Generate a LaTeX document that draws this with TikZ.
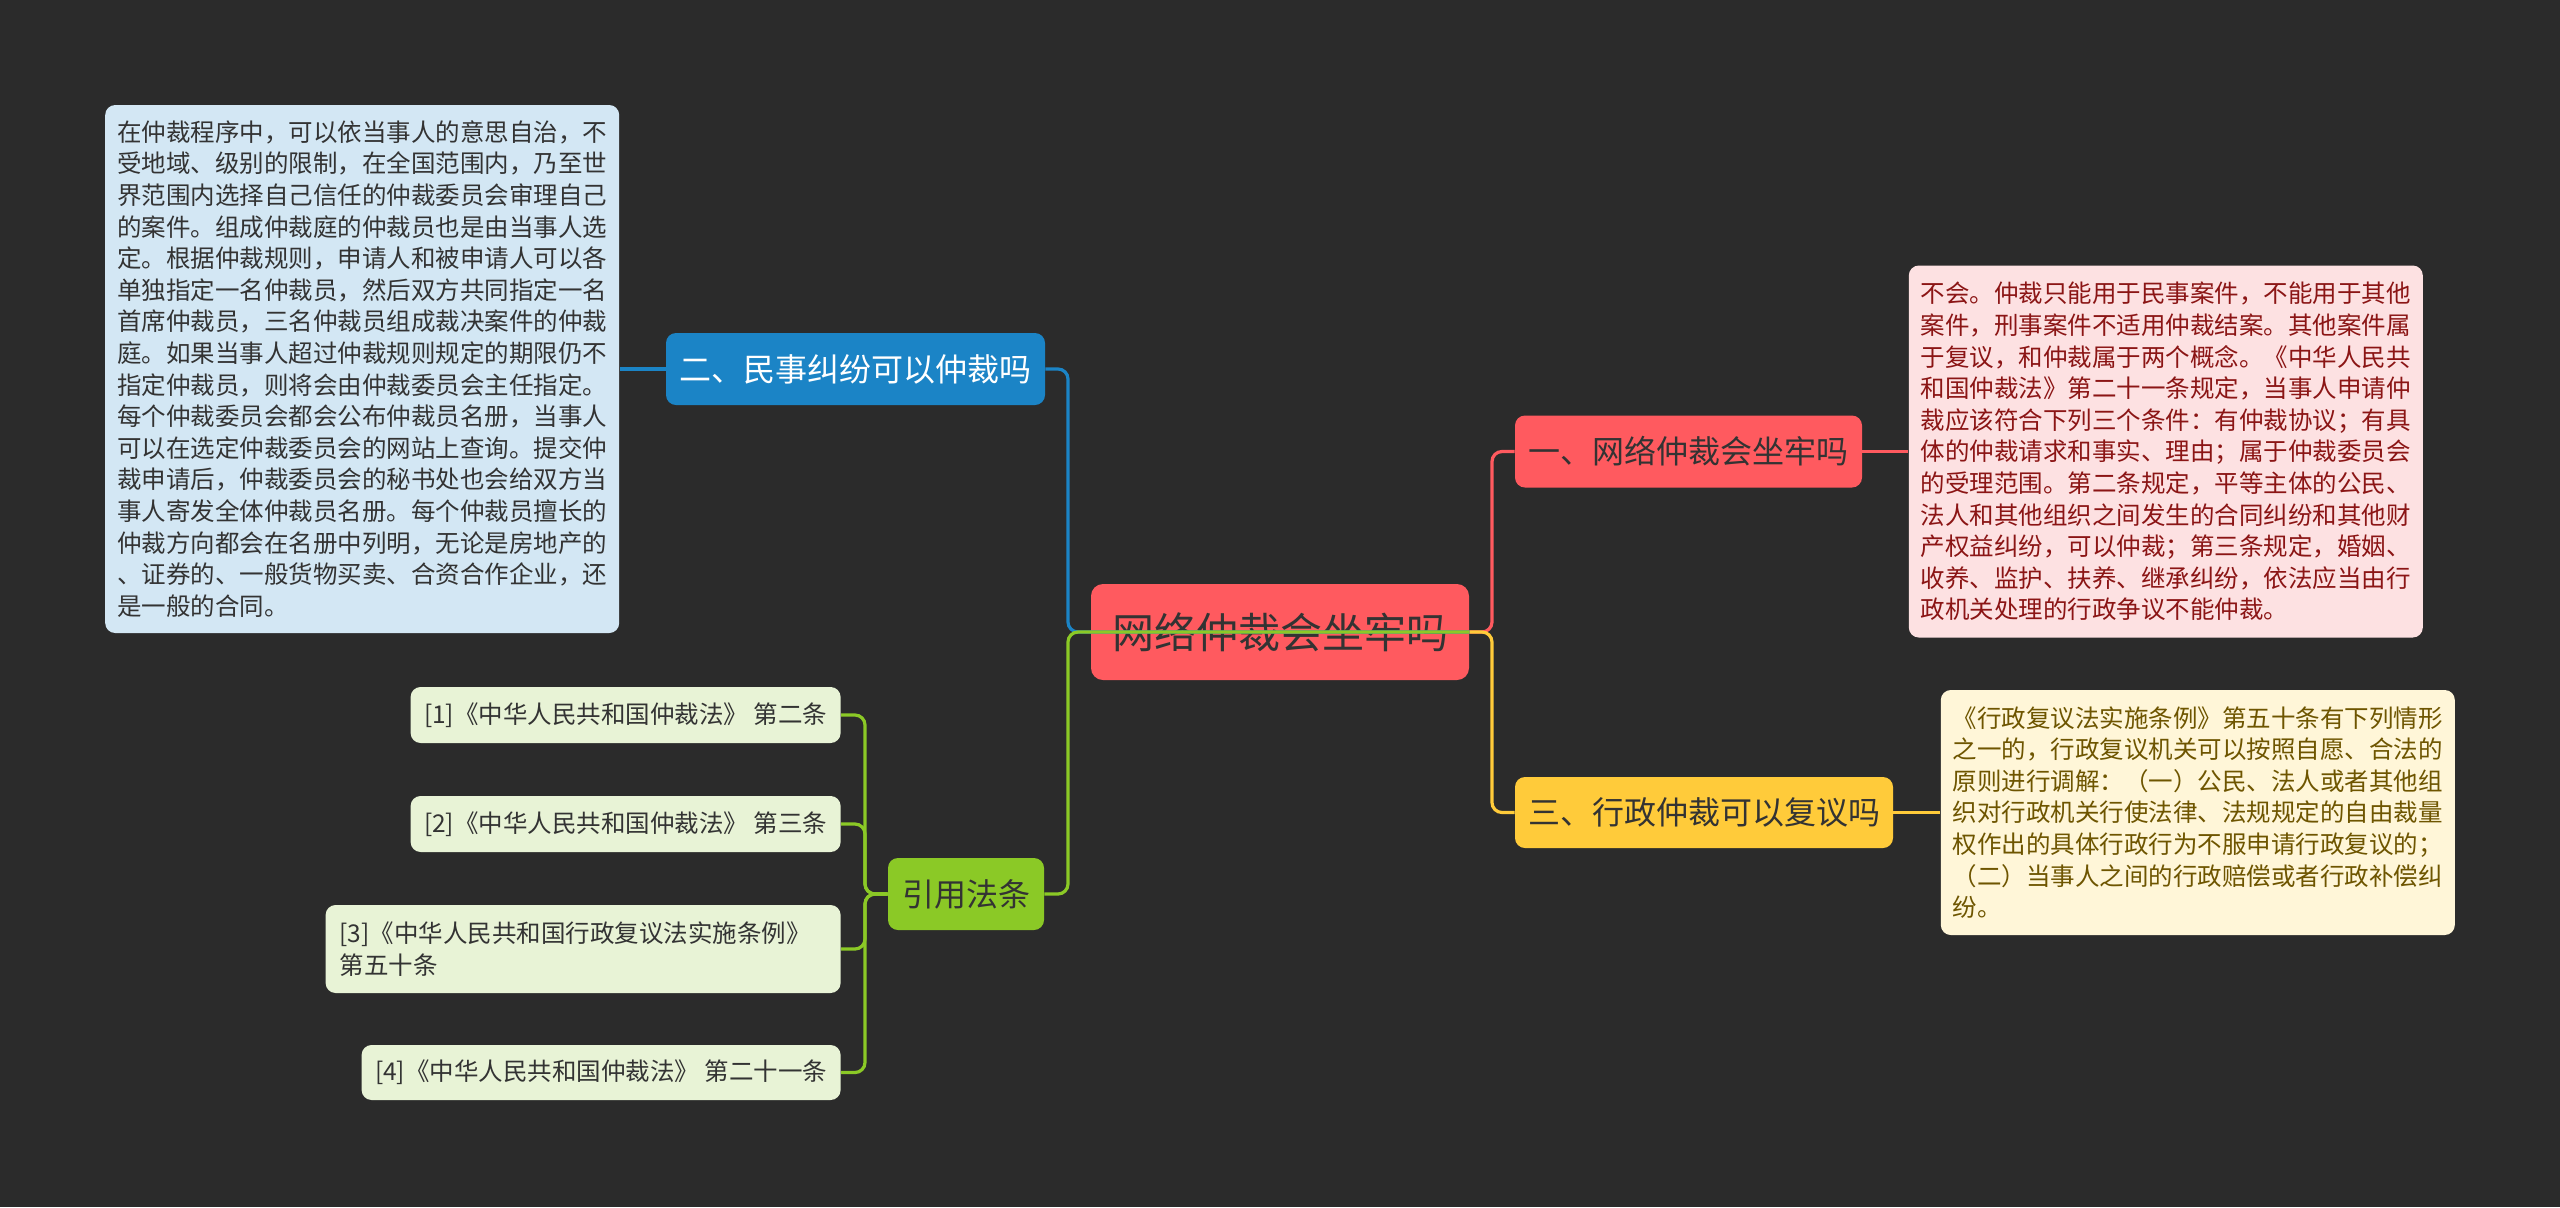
\documentclass[tikz,border=0pt]{standalone}
\usepackage{fontspec}
\setmainfont{Noto Sans CJK SC}
\usepackage{xcolor}
\usetikzlibrary{positioning}
\definecolor{bgdark}{HTML}{2B2B2B}
\definecolor{rootred}{HTML}{FF5A5F}
\definecolor{topicblue}{HTML}{1B84C6}
\definecolor{topicyellow}{HTML}{FFCB3A}
\definecolor{topicgreen}{HTML}{8BC926}
\definecolor{leafgreen}{HTML}{E8F3D6}
\definecolor{noteblue}{HTML}{D3E7F4}
\definecolor{notepink}{HTML}{FDE1E2}
\definecolor{noteyellow}{HTML}{FFF6D8}
\definecolor{inkdark}{HTML}{333333}
\definecolor{inkred}{HTML}{8B1515}
\definecolor{inkolive}{HTML}{6E5500}

\begin{document}
\begin{tikzpicture}[
  x=0.5pt, y=-0.5pt,
  node distance=23pt,
  topic/.style={rounded corners=5pt, inner sep=0pt, minimum height=36pt, text=inkdark, font=\fontsize{16}{19}\selectfont},
  note/.style={rounded corners=5pt, inner xsep=6pt, inner ysep=0pt, text width=245pt, align=left, font=\fontsize{12.25}{15.8}\selectfont},
  leaf/.style={fill=leafgreen, rounded corners=5pt, inner sep=0pt, anchor=east, text=inkdark, font=\fontsize{12.25}{15.8}\selectfont},
  link/.style={line width=1.6pt, rounded corners=5pt}
]
\fill[bgdark] (0,0) rectangle (2560,1207);

\node[rounded corners=6pt, fill=rootred, text=inkdark, minimum width=189pt, minimum height=48pt, inner sep=0pt, font=\fontsize{21}{25}\selectfont] (root) at (1280,632) {网络仲裁会坐牢吗};

\node[topic, fill=rootred, minimum width=173.5pt] (q1) at (1688.5,451.5) {一、网络仲裁会坐牢吗};
\node[topic, fill=topicblue, text=white, minimum width=189.5pt] (q2) at (855.5,369) {二、民事纠纷可以仲裁吗};
\node[topic, fill=topicyellow, minimum width=189pt, minimum height=35.5pt] (q3) at (1704,812.5) {三、行政仲裁可以复议吗};
\node[topic, fill=topicgreen, minimum width=78pt] (cite) at (966,894) {引用法条};

\node[note, fill=notepink, text=inkred, minimum height=186pt, right=of q1] (a1) {不会。仲裁只能用于民事案件，不能用于其他\\案件，刑事案件不适用仲裁结案。其他案件属\\于复议，和仲裁属于两个概念。《中华人民共\\和国仲裁法》第二十一条规定，当事人申请仲\\裁应该符合下列三个条件：有仲裁协议；有具\\体的仲裁请求和事实、理由；属于仲裁委员会\\的受理范围。第二条规定，平等主体的公民、\\法人和其他组织之间发生的合同纠纷和其他财\\产权益纠纷，可以仲裁；第三条规定，婚姻、\\收养、监护、扶养、继承纠纷，依法应当由行\\政机关处理的行政争议不能仲裁。};
\node[note, fill=noteblue, text=inkdark, minimum height=264pt, left=of q2] (a2) {在仲裁程序中，可以依当事人的意思自治，不\\受地域、级别的限制，在全国范围内，乃至世\\界范围内选择自己信任的仲裁委员会审理自己\\的案件。组成仲裁庭的仲裁员也是由当事人选\\定。根据仲裁规则，申请人和被申请人可以各\\单独指定一名仲裁员，然后双方共同指定一名\\首席仲裁员，三名仲裁员组成裁决案件的仲裁\\庭。如果当事人超过仲裁规则规定的期限仍不\\指定仲裁员，则将会由仲裁委员会主任指定。\\每个仲裁委员会都会公布仲裁员名册，当事人\\可以在选定仲裁委员会的网站上查询。提交仲\\裁申请后，仲裁委员会的秘书处也会给双方当\\事人寄发全体仲裁员名册。每个仲裁员擅长的\\仲裁方向都会在名册中列明，无论是房地产的\\、证券的、一般货物买卖、合资合作企业，还\\是一般的合同。};
\node[note, fill=noteyellow, text=inkolive, minimum height=122.5pt, right=23.5pt of q3] (a3) {《行政复议法实施条例》第五十条有下列情形\\之一的，行政复议机关可以按照自愿、合法的\\原则进行调解：（一）公民、法人或者其他组\\织对行政机关行使法律、法规规定的自由裁量\\权作出的具体行政行为不服申请行政复议的；\\（二）当事人之间的行政赔偿或者行政补偿纠\\纷。};

\node[leaf, minimum width=215pt, minimum height=28pt] (ref1) at (841,715) {[1]《中华人民共和国仲裁法》 第二条};
\node[leaf, minimum width=215pt, minimum height=28pt] (ref2) at (841,824) {[2]《中华人民共和国仲裁法》 第三条};
\node[leaf, inner xsep=7pt, text width=243.5pt, align=left, minimum height=44pt] (ref3) at (841,949) {[3]《中华人民共和国行政复议法实施条例》\\第五十条};
\node[leaf, minimum width=239.5pt, minimum height=27.5pt] (ref4) at (841,1072.5) {[4]《中华人民共和国仲裁法》 第二十一条};

\coordinate (lj) at (1068,632);
\coordinate (rj) at (1492,632);
\coordinate (cj) at (865,894);

\draw[link, rootred] (root.east) -- (rj) |- (q1.west);
\draw[link, topicyellow] (root.east) -- (rj) |- (q3.west);
\draw[link, topicblue] (root.east) -- (lj) |- (q2.east);
\draw[link, topicgreen] (root.east) -- (lj) |- (cite.east);

\draw[link, rootred] (q1.east) -- (a1.west);
\draw[link, topicblue] (q2.west) -- (a2.east);
\draw[link, topicyellow] (q3.east) -- (a3.west);

\draw[link, topicgreen] (cite.west) -- (cj) |- (ref1.east);
\draw[link, topicgreen] (cite.west) -- (cj) |- (ref2.east);
\draw[link, topicgreen] (cite.west) -- (cj) |- (ref3.east);
\draw[link, topicgreen] (cite.west) -- (cj) |- (ref4.east);
\end{tikzpicture}
\end{document}
